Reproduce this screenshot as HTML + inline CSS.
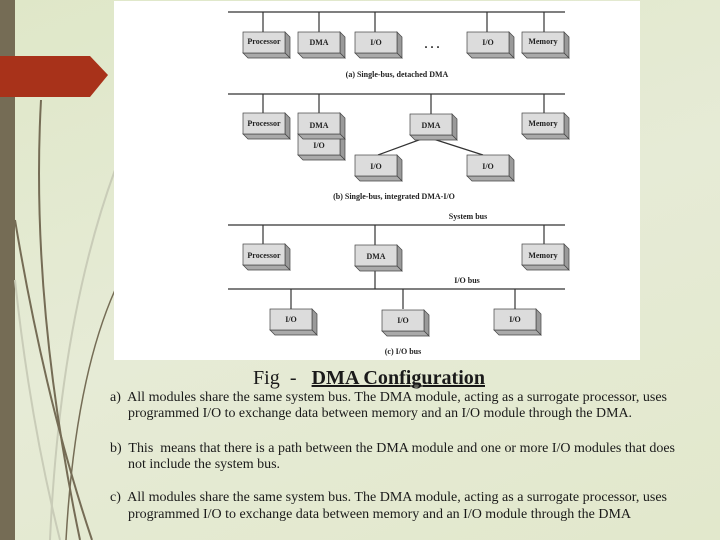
<!DOCTYPE html>
<html><head><meta charset="utf-8"><style>
html,body{margin:0;padding:0}
body{width:720px;height:540px;position:relative;overflow:hidden;background:linear-gradient(160deg,#dfe7c8 0%,#e6ebd6 50%,#e2e8cc 100%);font-family:"Liberation Serif",serif}
.bar{position:absolute;left:0;top:0;width:15px;height:540px;background:#756c55}
</style></head><body>
<div class="bar"></div>
<svg style="position:absolute;left:0;top:0" width="720" height="540">
<g fill="none" stroke="#c9ccb8" stroke-width="2"><path d="M115 170 Q60 320 50 540"/><path d="M15 280 Q30 420 60 540"/></g>
<g fill="none" stroke="#756c55" stroke-width="2">
<path d="M41 100 Q30 300 80 540"/>
<path d="M15 220 Q45 400 92 540"/>
<path d="M115 290 Q75 380 66 540" stroke-width="1.5"/>
</g>
<polygon points="0,56 90,56 108,75 90,97 0,97" fill="#a8321a"/>
<rect x="114" y="1" width="526" height="359" fill="#fff"/>
<g stroke="#333" stroke-width="1.2" fill="none">
<line x1="228" y1="12" x2="565" y2="12"/>
<line x1="263" y1="12" x2="263" y2="32"/><line x1="319" y1="12" x2="319" y2="32"/><line x1="375" y1="12" x2="375" y2="32"/><line x1="487" y1="12" x2="487" y2="32"/><line x1="544" y1="12" x2="544" y2="32"/>
<line x1="228" y1="94" x2="565" y2="94"/>
<line x1="263" y1="94" x2="263" y2="113"/><line x1="319" y1="94" x2="319" y2="113"/><line x1="431" y1="94" x2="431" y2="114"/><line x1="544" y1="94" x2="544" y2="113"/>
<line x1="427" y1="137" x2="378" y2="155"/><line x1="427" y1="137" x2="483" y2="155"/>
<line x1="228" y1="225" x2="565" y2="225"/>
<line x1="263" y1="225" x2="263" y2="244"/><line x1="375" y1="225" x2="375" y2="245"/><line x1="544" y1="225" x2="544" y2="244"/>
<line x1="375" y1="267" x2="375" y2="289"/>
<line x1="228" y1="289" x2="565" y2="289"/>
<line x1="291" y1="289" x2="291" y2="309"/><line x1="403" y1="289" x2="403" y2="309"/><line x1="515" y1="289" x2="515" y2="309"/>
</g>
<defs>
<g id="b"><polygon points="42,0 47,5 47,26 42,21" fill="#9a9a9a" stroke="#444" stroke-width="0.7"/><polygon points="0,21 42,21 47,26 5,26" fill="#aaa" stroke="#444" stroke-width="0.7"/><rect x="0" y="0" width="42" height="21" fill="#dcdcdc" stroke="#444" stroke-width="0.7"/></g>
</defs>
<g font-family="Liberation Serif,serif" font-weight="bold" font-size="8" text-anchor="middle" fill="#222">
<use href="#b" x="243" y="32"/><text x="264" y="44">Processor</text>
<use href="#b" x="298" y="32"/><text x="319" y="45">DMA</text>
<use href="#b" x="355" y="32"/><text x="376" y="45">I/O</text>
<text x="432" y="48" font-size="12">. . .</text>
<use href="#b" x="467" y="32"/><text x="488" y="45">I/O</text>
<use href="#b" x="522" y="32"/><text x="543" y="44">Memory</text>
<text x="397" y="77">(a) Single-bus, detached DMA</text>
<use href="#b" x="243" y="113"/><text x="264" y="126">Processor</text>
<use href="#b" x="298" y="134"/><use href="#b" x="298" y="113"/>
<text x="319" y="128">DMA</text><text x="319" y="148">I/O</text>
<use href="#b" x="410" y="114"/><text x="431" y="128">DMA</text>
<use href="#b" x="355" y="155"/><text x="376" y="169">I/O</text>
<use href="#b" x="467" y="155"/><text x="488" y="169">I/O</text>
<use href="#b" x="522" y="113"/><text x="543" y="126">Memory</text>
<text x="394" y="199">(b) Single-bus, integrated DMA-I/O</text>
<text x="468" y="219">System bus</text>
<use href="#b" x="243" y="244"/><text x="264" y="258">Processor</text>
<use href="#b" x="355" y="245"/><text x="376" y="259">DMA</text>
<use href="#b" x="522" y="244"/><text x="543" y="258">Memory</text>
<text x="467" y="283">I/O bus</text>
<use href="#b" x="270" y="309"/><text x="291" y="322">I/O</text>
<use href="#b" x="382" y="310"/><text x="403" y="323">I/O</text>
<use href="#b" x="494" y="309"/><text x="515" y="322">I/O</text>
<text x="403" y="354">(c) I/O bus</text>
</g>
<g font-family="Liberation Serif,serif" fill="#1a1a1a" font-size="14">
<text x="253" y="384" font-size="19.5" textLength="232" lengthAdjust="spacingAndGlyphs">Fig &#160;- &#160;&#160;<tspan font-weight="bold" text-decoration="underline">DMA Configuration</tspan></text>
<line x1="312" y1="386" x2="485" y2="386" stroke="#111" stroke-width="1.3"/>
<text x="110" y="401" textLength="557" lengthAdjust="spacingAndGlyphs">a)&#160; All modules share the same system bus. The DMA module, acting as a surrogate processor, uses</text>
<text x="128" y="417" textLength="504" lengthAdjust="spacingAndGlyphs">programmed I/O to exchange data between memory and an I/O module through the DMA.</text>
<text x="110" y="452" textLength="565" lengthAdjust="spacingAndGlyphs">b)&#160; This &#160;means that there is a path between the DMA module and one or more I/O modules that does</text>
<text x="128" y="468">not include the system bus.</text>
<text x="110" y="501" textLength="557" lengthAdjust="spacingAndGlyphs">c)&#160; All modules share the same system bus. The DMA module, acting as a surrogate processor, uses</text>
<text x="128" y="518" textLength="503" lengthAdjust="spacingAndGlyphs">programmed I/O to exchange data between memory and an I/O module through the DMA</text>
</g>
</svg>
</body></html>
